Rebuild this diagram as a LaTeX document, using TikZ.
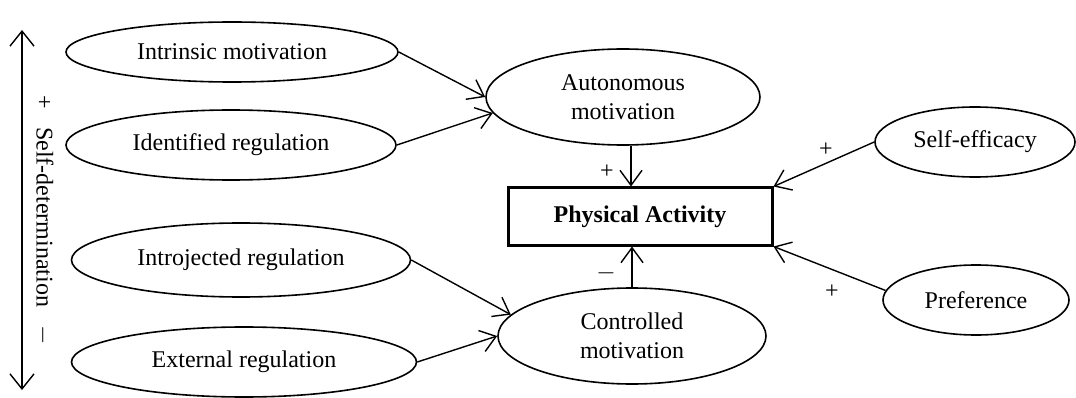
\documentclass[tikz,border=0pt]{standalone}
\usepackage{fontspec}
\setmainfont{Liberation Serif}
\usetikzlibrary{shapes.geometric,arrows.meta}
\begin{document}
\begin{tikzpicture}[x=1pt,y=-1pt,
  oval/.style={ellipse,draw,line width=1.6pt,inner sep=0pt,font=\fontsize{24}{29}\selectfont,align=center},
  arr/.style={line width=1.4pt,-{Straight Barb[length=15pt,width=22pt,line width=1.4pt]}},
  lbl/.style={font=\fontsize{24}{29}\selectfont,inner sep=0pt}]
\useasboundingbox (0,0) rectangle (1076,398);
\node[oval,minimum width=332pt,minimum height=60pt] (intr) at (232,52) {Intrinsic motivation};
\node[oval,minimum width=330pt,minimum height=70pt] (iden) at (231,145) {Identified regulation};
\node[oval,minimum width=339pt,minimum height=74pt] (intro) at (241,260) {Introjected regulation};
\node[oval,minimum width=345pt,minimum height=70pt] (ext) at (244,362) {External regulation};
\node[oval,minimum width=274pt,minimum height=96pt] (auto) at (623,97) {Autonomous\\motivation};
\node[oval,minimum width=268pt,minimum height=96pt] (ctrl) at (632,336) {Controlled\\motivation};
\node[oval,minimum width=200pt,minimum height=70pt] (self) at (975,142) {Self-efficacy};
\node[oval,minimum width=186pt,minimum height=70pt] (pref) at (976,300) {Preference};
\node[draw,line width=3pt,minimum width=264pt,minimum height=57pt,inner sep=0pt,font=\bfseries\fontsize{24}{29}\selectfont] (pa) at (640,216.5) {Physical Activity};
\draw[arr] (intr.east) -- (auto.west);
\draw[arr] (iden.east) -- (auto.187);
\draw[arr] (intro.east) -- (ctrl.170);
\draw[arr] (ext.east) -- (ctrl.west);
\draw[arr] (auto.south -| 631,0) -- (pa.north -| 631,0);
\draw[arr] (ctrl.north -| 632,0) -- (pa.south -| 632,0);
\draw[arr] (self.west) -- (pa.north east);
\draw[arr] (pref.174) -- (pa.south east);
\node[lbl] (l1) at (607,172) {+};
\node[lbl] (l2) at (606,273) {$-$};
\node[lbl] (l3) at (826,150) {+};
\node[lbl] (l4) at (832,292) {+};
\coordinate (sdt) at (22,30);
\coordinate (sdb) at (22,390);
\draw[line width=1.4pt,{Straight Barb[length=15pt,width=24pt,line width=1.4pt]}-{Straight Barb[length=15pt,width=24pt,line width=1.4pt]}] (sdt) -- (sdb);
\node[lbl,rotate=-90] (sd) at (44,220) {+\hspace{18pt}Self-determination\hspace{18pt}$-$};
\end{tikzpicture}
\end{document}
